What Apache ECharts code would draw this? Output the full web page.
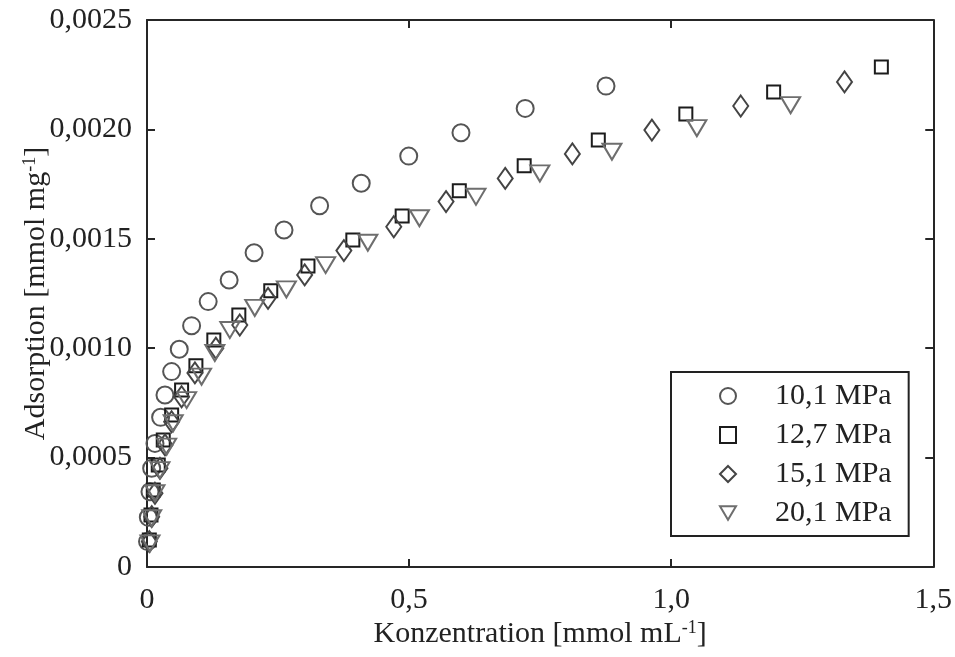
<!DOCTYPE html>
<html>
<head>
<meta charset="utf-8">
<script src="https://cdn.jsdelivr.net/npm/echarts@6/dist/echarts.min.js"></script>
<style>html,body{margin:0;padding:0;background:#fff}#c{width:955px;height:657px}</style>
</head>
<body>
<div id="c"></div>
<script>
// ---- data ----
const seriesNames = ['10,1 MPa', '12,7 MPa', '15,1 MPa', '20,1 MPa'];
const xTickLabels = ['0', '0,5', '1,0', '1,5'];
const yTickLabels = ['0', '0,0005', '0,0010', '0,0015', '0,0020', '0,0025'];

const p101X = [0.001, 0.0025, 0.0057, 0.0089, 0.0152, 0.026, 0.0343, 0.047, 0.0615, 0.0851, 0.1167, 0.1567, 0.2043, 0.2614, 0.3293, 0.4087, 0.4993, 0.599, 0.7215, 0.8757];
const p101Y = [0.000116, 0.000227, 0.000344, 0.000451, 0.000565, 0.000684, 0.000786, 0.000893, 0.000995, 0.001103, 0.001213, 0.001312, 0.001436, 0.00154, 0.001651, 0.001754, 0.001878, 0.001985, 0.002096, 0.002198];

const p127X = [0.0044, 0.0076, 0.012, 0.0215, 0.031, 0.047, 0.066, 0.0933, 0.1275, 0.1752, 0.2361, 0.3071, 0.3927, 0.4868, 0.5958, 0.7196, 0.861, 1.028, 1.1955, 1.401];
const p127Y = [0.000123, 0.000238, 0.000352, 0.000466, 0.00058, 0.000695, 0.000809, 0.00092, 0.001037, 0.001152, 0.001263, 0.001376, 0.001494, 0.001604, 0.00172, 0.001834, 0.001952, 0.00207, 0.002171, 0.002285];

const p151X = [0.0044, 0.009, 0.0152, 0.0247, 0.0343, 0.047, 0.066, 0.0914, 0.1313, 0.177, 0.2309, 0.3008, 0.3756, 0.4708, 0.5705, 0.6834, 0.8115, 0.9632, 1.1327, 1.3307];
const p151Y = [0.000116, 0.00023, 0.000337, 0.000451, 0.000558, 0.000664, 0.000778, 0.000887, 0.001, 0.001106, 0.001228, 0.001335, 0.001446, 0.001555, 0.00167, 0.001776, 0.001888, 0.001997, 0.002107, 0.002217];

const p201X = [0.0057, 0.009, 0.0152, 0.0247, 0.0375, 0.05, 0.0756, 0.1041, 0.1294, 0.158, 0.2056, 0.2659, 0.3408, 0.4213, 0.5197, 0.6276, 0.7495, 0.887, 1.049, 1.2279];
const p201Y = [0.000108, 0.000223, 0.000337, 0.000443, 0.00055, 0.000657, 0.000763, 0.00087, 0.000978, 0.001083, 0.001184, 0.001269, 0.00138, 0.001482, 0.001594, 0.001692, 0.001799, 0.001898, 0.002006, 0.002111];

// ---- chart ----
const FONT = '"Liberation Serif", "DejaVu Serif", serif';
const FS = 30;
const AXC = '#262626';
const zip = (a, b) => a.map((v, i) => [v, b[i]]);
const downTri = 'path://M0,0 L20,0 L10,17 Z';

const styles = [
  {symbol: 'circle', size: 17, color: '#555555'},
  {symbol: 'rect', size: 13, color: '#1c1c1c'},
  {symbol: 'diamond', size: [15, 21], color: '#444444'},
  {symbol: downTri, size: [19, 16], color: '#6e6e6e'}
];
const dataSets = [zip(p101X, p101Y), zip(p127X, p127Y), zip(p151X, p151Y), zip(p201X, p201Y)];

const series = seriesNames.map((name, i) => ({
  name: name,
  type: 'scatter',
  data: dataSets[i],
  symbol: styles[i].symbol,
  symbolSize: styles[i].size,
  itemStyle: {color: 'rgba(0,0,0,0)', borderColor: styles[i].color, borderWidth: 2, opacity: 1},
  emphasis: {disabled: true},
  z: 2 + i
}));

const nameRich = {sup: {fontFamily: FONT, fontSize: 18, color: '#222', verticalAlign: 'top', padding: [0, 0, 12, 0]}};

const common = {
  axisLine: {show: true, onZero: false, lineStyle: {color: AXC, width: 2}},
  axisTick: {show: true, inside: true, length: 8, lineStyle: {color: AXC, width: 2}},
  splitLine: {show: false}
};

const chart = echarts.init(document.getElementById('c'), null, {renderer: 'canvas'});
chart.setOption({
  animation: false,
  backgroundColor: '#fff',
  grid: {left: 147, right: 20, top: 20, bottom: 90, containLabel: false},
  xAxis: [
    Object.assign({}, common, {
      type: 'value', min: 0, max: 1.5, interval: 0.5, position: 'bottom',
      name: 'Konzentration [mmol mL{sup|-1}]', nameLocation: 'middle', nameGap: 52,
      nameMoveOverlap: false,
      nameTextStyle: {fontFamily: FONT, fontSize: FS, color: '#222', rich: nameRich},
      axisLabel: {fontFamily: FONT, fontSize: FS, color: '#222', margin: 18,
        formatter: v => xTickLabels[Math.round(v / 0.5)]}
    }),
    Object.assign({}, common, {
      type: 'value', min: 0, max: 1.5, interval: 0.5, position: 'top', axisLabel: {show: false}
    })
  ],
  yAxis: [
    Object.assign({}, common, {
      type: 'value', min: 0, max: 0.0025, interval: 0.0005, position: 'left',
      name: 'Adsorption [mmol mg{sup|-1}]', nameLocation: 'middle', nameGap: 96, nameRotate: 90,
      nameMoveOverlap: false,
      nameTextStyle: {fontFamily: FONT, fontSize: FS, color: '#222', rich: nameRich},
      axisLabel: {fontFamily: FONT, fontSize: FS, color: '#222', margin: 15,
        formatter: v => yTickLabels[Math.round(v / 0.0005)]}
    }),
    Object.assign({}, common, {
      type: 'value', min: 0, max: 0.0025, interval: 0.0005, position: 'right', axisLabel: {show: false}
    })
  ],
  legend: {
    orient: 'vertical', left: 671, top: 372,
    padding: [9, 17, 8, 48], itemGap: 9, itemWidth: 16, itemHeight: 16,
    borderColor: '#222', borderWidth: 2, backgroundColor: '#fff',
    selectedMode: false,
    data: seriesNames.map(n => ({name: n})),
    textStyle: {fontFamily: FONT, fontSize: FS, color: '#222', padding: [0, 0, 0, 34], lineHeight: 30}
  },
  series: series
});
</script>
</body>
</html>
